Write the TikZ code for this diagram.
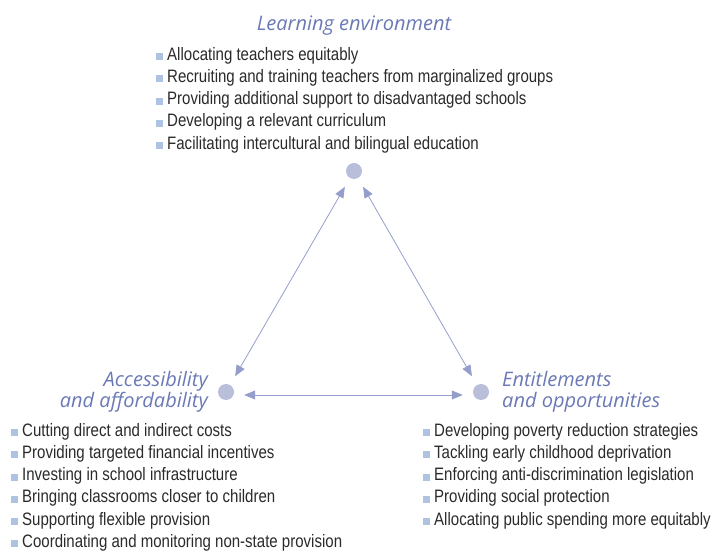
\documentclass[tikz,border=0pt]{standalone}
\usepackage{fontspec}
\setmainfont{Liberation Sans}[FakeStretch=0.835]
\newfontfamily\headfont{Open Sans}
\usetikzlibrary{positioning,arrows.meta}

\definecolor{dotblue}{HTML}{B9BEDB}
\definecolor{arrowblue}{HTML}{959ECB}
\definecolor{headblue}{HTML}{6B79B5}
\definecolor{bulletblue}{HTML}{AEC3E2}
\definecolor{textgray}{HTML}{2A2A2A}
\newcommand{\bul}{\textcolor{bulletblue}{\rule{7pt}{7pt}}\hspace{4pt}}

\begin{document}
\begin{tikzpicture}[x=1pt,y=1pt]
  \tikzstyle{corner}=[circle,fill=dotblue,inner sep=0pt,minimum size=16pt]
  \tikzstyle{heading}=[font=\headfont\itshape\fontsize{20}{21}\selectfont,text=headblue,inner sep=0pt]
  \tikzstyle{measures}=[font=\fontsize{18}{22.2}\selectfont,text=textgray,align=left,inner sep=0pt]
  \tikzstyle{link}=[<->,>={Triangle[length=11pt,width=9pt]},draw=arrowblue,line width=0.8pt,shorten <=10pt,shorten >=10pt]
  \useasboundingbox (0,0) rectangle (714,551);

  % corners of the triangle
  \node[corner] (learn) at (354,380) {};
  \node[corner] (access) at (226,159) {};
  \node[corner] (entitle) at (481,159) {};

  % headings
  \node[heading] (hlearn) at (354,525) {Learning environment};
  \node[heading,anchor=east,align=right] (haccess) at (208,159) {Accessibility\\and affordability};
  \node[heading,anchor=west,align=left] (hentitle) at (502,159) {Entitlements\\and opportunities};

  % lists
  \node[measures,anchor=north west] (llearn) at (156,504) {%
    \bul Allocating teachers equitably\\
    \bul Recruiting and training teachers from marginalized groups\\
    \bul Providing additional support to disadvantaged schools\\
    \bul Developing a relevant curriculum\\
    \bul Facilitating intercultural and bilingual education};
  \node[measures,anchor=north west] (laccess) at (11,128) {%
    \bul Cutting direct and indirect costs\\
    \bul Providing targeted financial incentives\\
    \bul Investing in school infrastructure\\
    \bul Bringing classrooms closer to children\\
    \bul Supporting flexible provision\\
    \bul Coordinating and monitoring non-state provision};
  \node[measures,anchor=north west] (lentitle) at (423,128) {%
    \bul Developing poverty reduction strategies\\
    \bul Tackling early childhood deprivation\\
    \bul Enforcing anti-discrimination legislation\\
    \bul Providing social protection\\
    \bul Allocating public spending more equitably};

  % arrows
  \draw[link] (learn) -- (access);
  \draw[link] (learn) -- (entitle);
  \draw[link] ([yshift=-3pt]access.east) -- ([yshift=-3pt]entitle.west);

\end{tikzpicture}
\end{document}
